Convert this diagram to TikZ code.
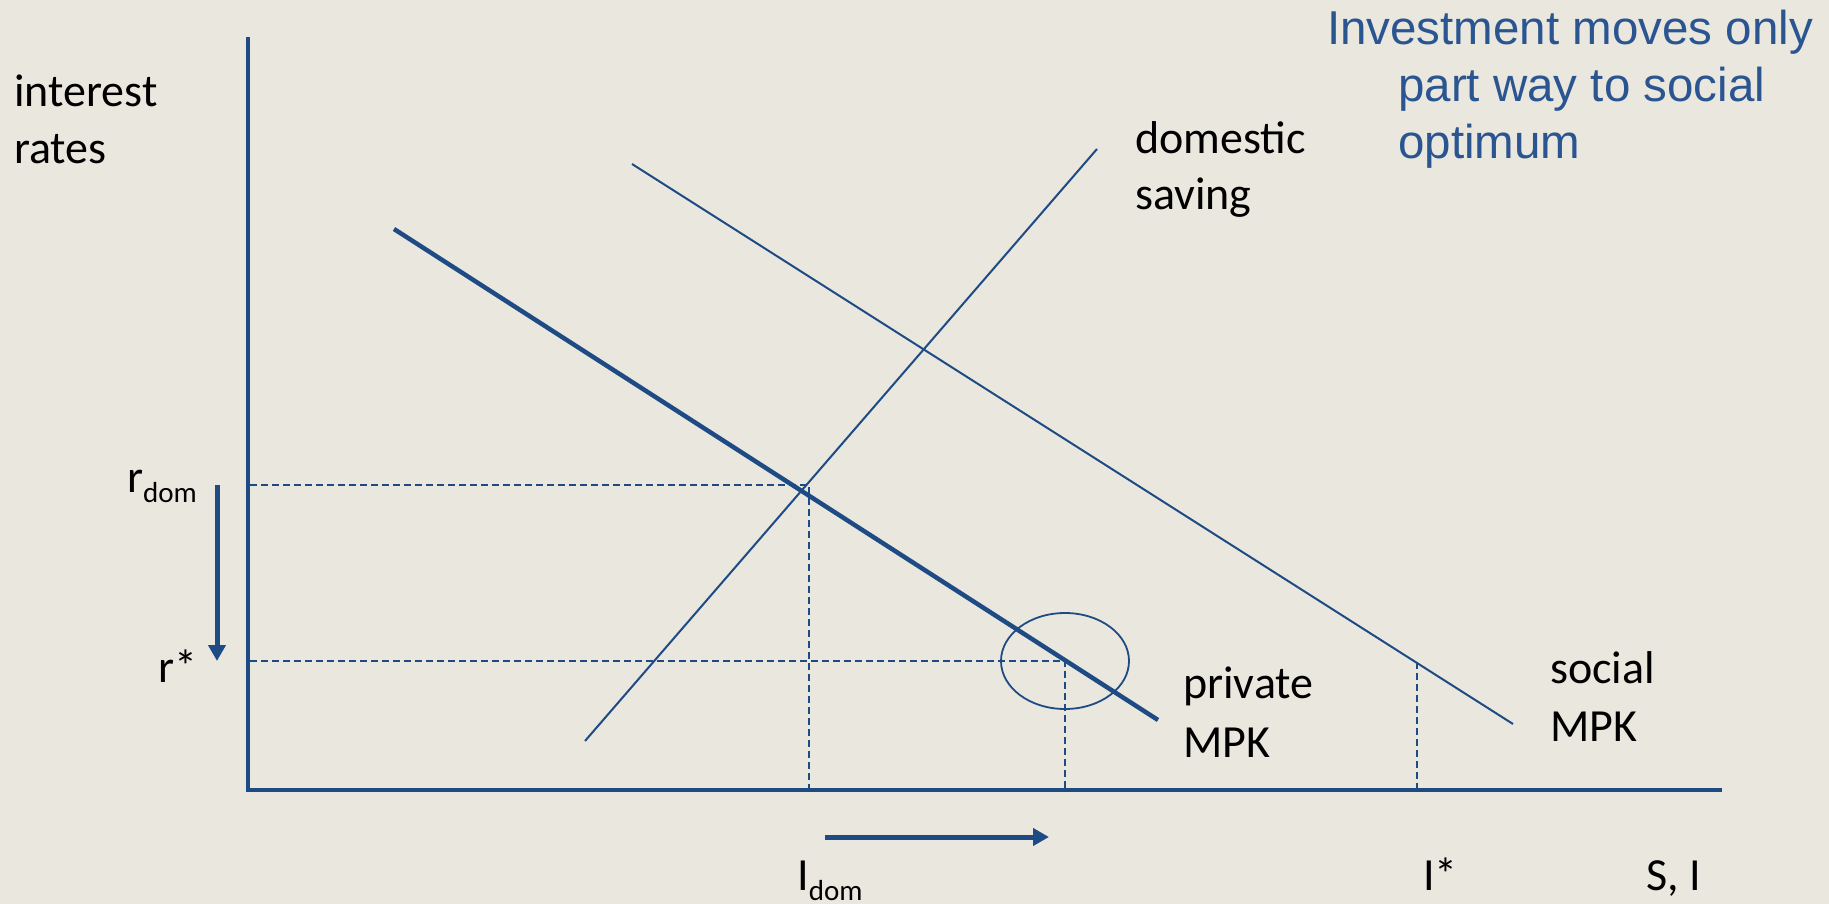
\documentclass[tikz,border=0pt]{standalone}
\usepackage{fontspec}
\setmainfont{Carlito}
\newfontfamily\arialf{Liberation Sans}
\usetikzlibrary{arrows.meta}
\definecolor{bg}{RGB}{234,231,223}
\definecolor{lineblue}{HTML}{1F4B84}
\definecolor{titleblue}{HTML}{2A5590}
\begin{document}
\begin{tikzpicture}[x=1pt,y=-1pt,
  lbl/.style={anchor=base west,inner sep=0pt,font=\fontsize{46}{55}\selectfont},
  ttl/.style={anchor=base west,inner sep=0pt,text=titleblue,font=\arialf\fontsize{47.5}{57}\selectfont},
  axisline/.style={draw=lineblue,line width=4pt},
  thinline/.style={draw=lineblue,line width=2pt},
  thickline/.style={draw=lineblue,line width=4.5pt},
  guide/.style={draw=lineblue,line width=1.8pt,dash pattern=on 7pt off 4pt},
  shiftarrow/.style={draw=lineblue,line width=5pt,-{Triangle[length=16pt,width=17pt]}}]
\fill[bg] (0,0) rectangle (1829,904);
\useasboundingbox (0,0) rectangle (1829,904);
% axes
\coordinate (O) at (248,790);
\coordinate (Ytop) at (248,37);
\coordinate (Xend) at (1722,790);
% curves
\coordinate (pA) at (394,229);
\coordinate (pB) at (1158,720);
\coordinate (sA) at (632,164);
\coordinate (sB) at (1513,724);
\coordinate (dA) at (585,741);
\coordinate (dB) at (1097,149);
% guide points
\coordinate (rdomL) at (250,485);
\coordinate (rdomC) at (809,485);
\coordinate (idomB) at (809,790);
\coordinate (rstarL) at (250,661);
\coordinate (rstarC) at (1065,661);
\coordinate (rstarB) at (1065,790);
\coordinate (istarT) at (1417,662);
\coordinate (istarB) at (1417,790);
% arrows
\coordinate (dnA) at (217,485);
\coordinate (dnB) at (217,661);
\coordinate (rtA) at (825,837);
\coordinate (rtB) at (1049,837);

\draw[guide] (rdomL) -- (rdomC) -- (idomB);
\draw[guide] (rstarL) -- (rstarC) -- (rstarB);
\draw[guide] (istarT) -- (istarB);
\draw[thinline] (sA) -- (sB);
\draw[thinline] (dA) -- (dB);
\draw[thickline] (pA) -- (pB);
\draw[axisline] (Ytop) -- (O) -- (Xend);
\draw[thinline,line width=1.8pt] (rstarC) ellipse [x radius=64, y radius=48];
\draw[shiftarrow] (dnA) -- (dnB);
\draw[shiftarrow] (rtA) -- (rtB);

% labels
\node[lbl] (l1) at (14,107) {interest};
\node[lbl] (l2) at (14,164) {rates};
\node[lbl] (l3) at (1135,154) {domestic};
\node[lbl] (l4) at (1135,210) {saving};
\node[lbl] (l5) at (1183,698) {private};
\node[lbl] (l6) at (1183,757) {MPK};
\node[lbl] (l7) at (1550,683) {social};
\node[lbl] (l8) at (1550,741) {MPK};
\node[lbl] (l9) at (127,492) {r\raisebox{-10pt}{\fontsize{29}{30}\selectfont dom}};
\node[lbl] (l10) at (158,682) {r*};
\node[lbl] (l11) at (797,890) {I\raisebox{-10pt}{\fontsize{29}{30}\selectfont dom}};
\node[lbl] (l12) at (1423,890) {I*};
\node[lbl] (l13) at (1646,890) {S, I};
% title
\node[ttl] (t1) at (1327,45) {Investment moves only};
\node[ttl] (t2) at (1398,102) {part way to social};
\node[ttl] (t3) at (1398,159) {optimum};
\end{tikzpicture}
\end{document}
